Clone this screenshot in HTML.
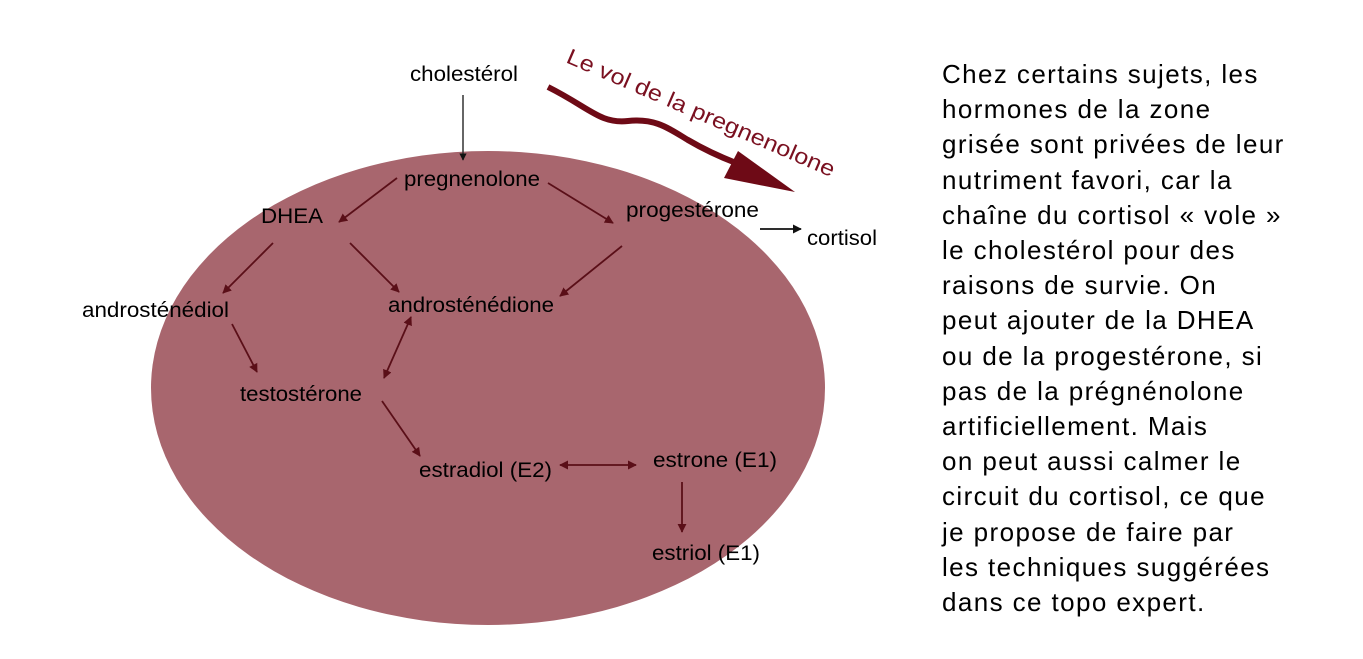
<!DOCTYPE html>
<html><head><meta charset="utf-8"><style>
html,body{margin:0;padding:0;background:#fff;}
body{width:1363px;height:659px;position:relative;overflow:hidden;}
svg{position:absolute;left:0;top:0;}
.t{font-family:"Liberation Sans",sans-serif;font-size:21px;fill:#000;}
#txt{position:absolute;left:942px;top:57px;font-family:"Liberation Sans",sans-serif;font-size:26px;letter-spacing:1.4px;line-height:35.2px;color:#000;white-space:nowrap;}
</style></head><body>
<svg width="1363" height="659" viewBox="0 0 1363 659">
<defs>
<marker id="a" viewBox="0 0 10 10" refX="9" refY="5" markerWidth="5" markerHeight="5" orient="auto-start-reverse"><path d="M0,0 L10,5 L0,10 z" fill="#5a0f18"/></marker>
<marker id="b" viewBox="0 0 10 10" refX="9" refY="5" markerWidth="5" markerHeight="5" orient="auto"><path d="M0,0 L10,5 L0,10 z" fill="#111"/></marker>
</defs>
<ellipse cx="488" cy="388" rx="337" ry="237" fill="#a8666e"/>
<g stroke="#5a0f18" stroke-width="1.8" fill="none">
<line x1="397" y1="178" x2="339" y2="222" marker-end="url(#a)"/>
<line x1="548" y1="183" x2="613" y2="223" marker-end="url(#a)"/>
<line x1="622" y1="246" x2="560" y2="296" marker-end="url(#a)"/>
<line x1="273" y1="243" x2="223" y2="293" marker-end="url(#a)"/>
<line x1="350" y1="243" x2="399" y2="292" marker-end="url(#a)"/>
<line x1="232" y1="324" x2="257" y2="372" marker-end="url(#a)"/>
<line x1="411" y1="317" x2="384" y2="378" marker-start="url(#a)" marker-end="url(#a)"/>
<line x1="382" y1="401" x2="420" y2="456" marker-end="url(#a)"/>
<line x1="560" y1="465" x2="636" y2="465" marker-start="url(#a)" marker-end="url(#a)"/>
<line x1="682" y1="482" x2="682" y2="532" marker-end="url(#a)"/>
</g>
<line x1="463" y1="95" x2="463" y2="160" stroke="#333" stroke-width="1.5" marker-end="url(#b)"/>
<line x1="760" y1="229" x2="801" y2="229" stroke="#111" stroke-width="1.8" marker-end="url(#b)"/>
<path d="M548,87 C590,108 600,124 628,121 C655,118 668,128 688,140 C705,150 718,156 736,163" stroke="#6e0a16" stroke-width="6" fill="none"/>
<path d="M724,178 L738,151 L795,192 z" fill="#6e0a16"/>
<text x="565" y="62" transform="rotate(23.4 565 62)" font-family="Liberation Sans,sans-serif" font-size="22" fill="#7a1020" textLength="290" lengthAdjust="spacingAndGlyphs">Le vol de la pregnenolone</text>
<text class="t" x="410" y="81" textLength="108" lengthAdjust="spacingAndGlyphs">cholestérol</text>
<text class="t" x="404" y="186" textLength="136" lengthAdjust="spacingAndGlyphs">pregnenolone</text>
<text class="t" x="261" y="223" textLength="62" lengthAdjust="spacingAndGlyphs">DHEA</text>
<text class="t" x="626" y="217" textLength="133" lengthAdjust="spacingAndGlyphs">progestérone</text>
<text class="t" x="807" y="245" textLength="70" lengthAdjust="spacingAndGlyphs">cortisol</text>
<text class="t" x="388" y="312" textLength="166" lengthAdjust="spacingAndGlyphs">androsténédione</text>
<text class="t" x="82" y="317" textLength="147" lengthAdjust="spacingAndGlyphs">androsténédiol</text>
<text class="t" x="240" y="401" textLength="122" lengthAdjust="spacingAndGlyphs">testostérone</text>
<text class="t" x="419" y="477" textLength="133" lengthAdjust="spacingAndGlyphs">estradiol (E2)</text>
<text class="t" x="653" y="467" textLength="124" lengthAdjust="spacingAndGlyphs">estrone (E1)</text>
<text class="t" x="652" y="560" textLength="108" lengthAdjust="spacingAndGlyphs">estriol (E1)</text>
</svg>
<div id="txt">Chez certains sujets, les<br>hormones de la zone<br>grisée sont privées de leur<br>nutriment favori, car la<br>chaîne du cortisol « vole »<br>le cholestérol pour des<br>raisons de survie. On<br>peut ajouter de la DHEA<br>ou de la progestérone, si<br>pas de la prégnénolone<br>artificiellement. Mais<br>on peut aussi calmer le<br>circuit du cortisol, ce que<br>je propose de faire par<br>les techniques suggérées<br>dans ce topo expert.</div>
</body></html>
